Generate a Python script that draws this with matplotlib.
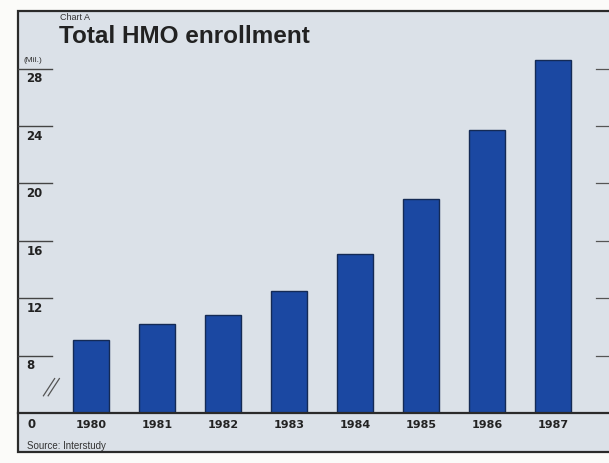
import matplotlib.pyplot as plt
from matplotlib.patches import Rectangle

plt.rcParams['font.family'] = ['Liberation Sans', 'DejaVu Sans']

years = ['1980', '1981', '1982', '1983', '1984', '1985', '1986', '1987']
enrollment = [9.1, 10.2, 10.8, 12.5, 15.1, 18.9, 23.7, 28.6]  # millions
tick_values = [8, 12, 16, 20, 24, 28]

W, H = 609, 464
BG = '#dbe1e8'
BAR = '#1b48a2'
INK = '#222222'
NUM_FONT = 'DejaVu Sans'


def fx(px):
    return px / W


def fy(py):
    return 1 - py / H


fig = plt.figure(figsize=(W / 100, H / 100), dpi=100)
fig.patch.set_facecolor('#fbfbf9')

# panel frame (runs off the right edge)
fig.patches.append(Rectangle((fx(18), fy(453)), fx(620) - fx(18), fy(12) - fy(453),
                             transform=fig.transFigure, facecolor=BG,
                             edgecolor='#2a2a2a', linewidth=1.6, zorder=-5))

fig.text(fx(60), fy(20), 'Chart A', fontsize=6.5, color='#333333', va='baseline')
fig.text(fx(59), fy(43), 'Total HMO enrollment', fontsize=17.5, fontweight='bold',
         color=INK, va='baseline')
fig.text(fx(24), fy(62), '(Mil.)', fontsize=6, color='#333333', va='baseline')
fig.text(fx(27), fy(449), 'Source: Interstudy', fontsize=7, color='#333333', va='baseline')

# plotting area: baseline sits at 4 on the scale, shown as a broken axis "0"
ax = fig.add_axes([fx(18), fy(414), fx(609) - fx(18), fy(50) - fy(414)])
ax.set_facecolor('none')
ax.set_zorder(2)
x = list(range(len(years)))
ax.bar(x, enrollment, width=0.55, color=BAR, edgecolor='#142a55', linewidth=1.0, zorder=2)

ax.set_xlim(-1.106, 7.85)
ax.set_ylim(4, 4 + 364 / 14.35)

for s in ['left', 'right', 'top']:
    ax.spines[s].set_visible(False)
ax.spines['bottom'].set_linewidth(1.6)
ax.spines['bottom'].set_color('#2a2a2a')
ax.set_xticks([])
ax.set_yticks([])

tr = ax.get_yaxis_transform()
for v in tick_values:
    ax.plot([0, 0.057], [v, v], color='#444444', linewidth=1.0, transform=tr, clip_on=False)
    ax.plot([0.978, 1.0], [v, v], color='#555555', linewidth=0.9, transform=tr, clip_on=False)
    ax.text(0.014, v - 0.2, str(v), transform=tr, fontsize=8.5, fontweight='bold',
            family=NUM_FONT, color=INK, va='top', ha='left')

ax.text(0.016, 3.75, '0', transform=tr, fontsize=8.5, fontweight='bold',
        family=NUM_FONT, color=INK, va='top', ha='left')

# axis break marks
for dx in (0, 0.008):
    ax.plot([0.043 + dx, 0.062 + dx], [5.2, 6.4], color='#555555', linewidth=0.9,
            transform=tr, clip_on=False)

for i, yr in enumerate(years):
    ax.text(i, 3.55, yr, fontsize=8, fontweight='bold', family=NUM_FONT, color=INK,
            ha='center', va='top')

fig.savefig('out.png', dpi=100, facecolor=fig.get_facecolor())
